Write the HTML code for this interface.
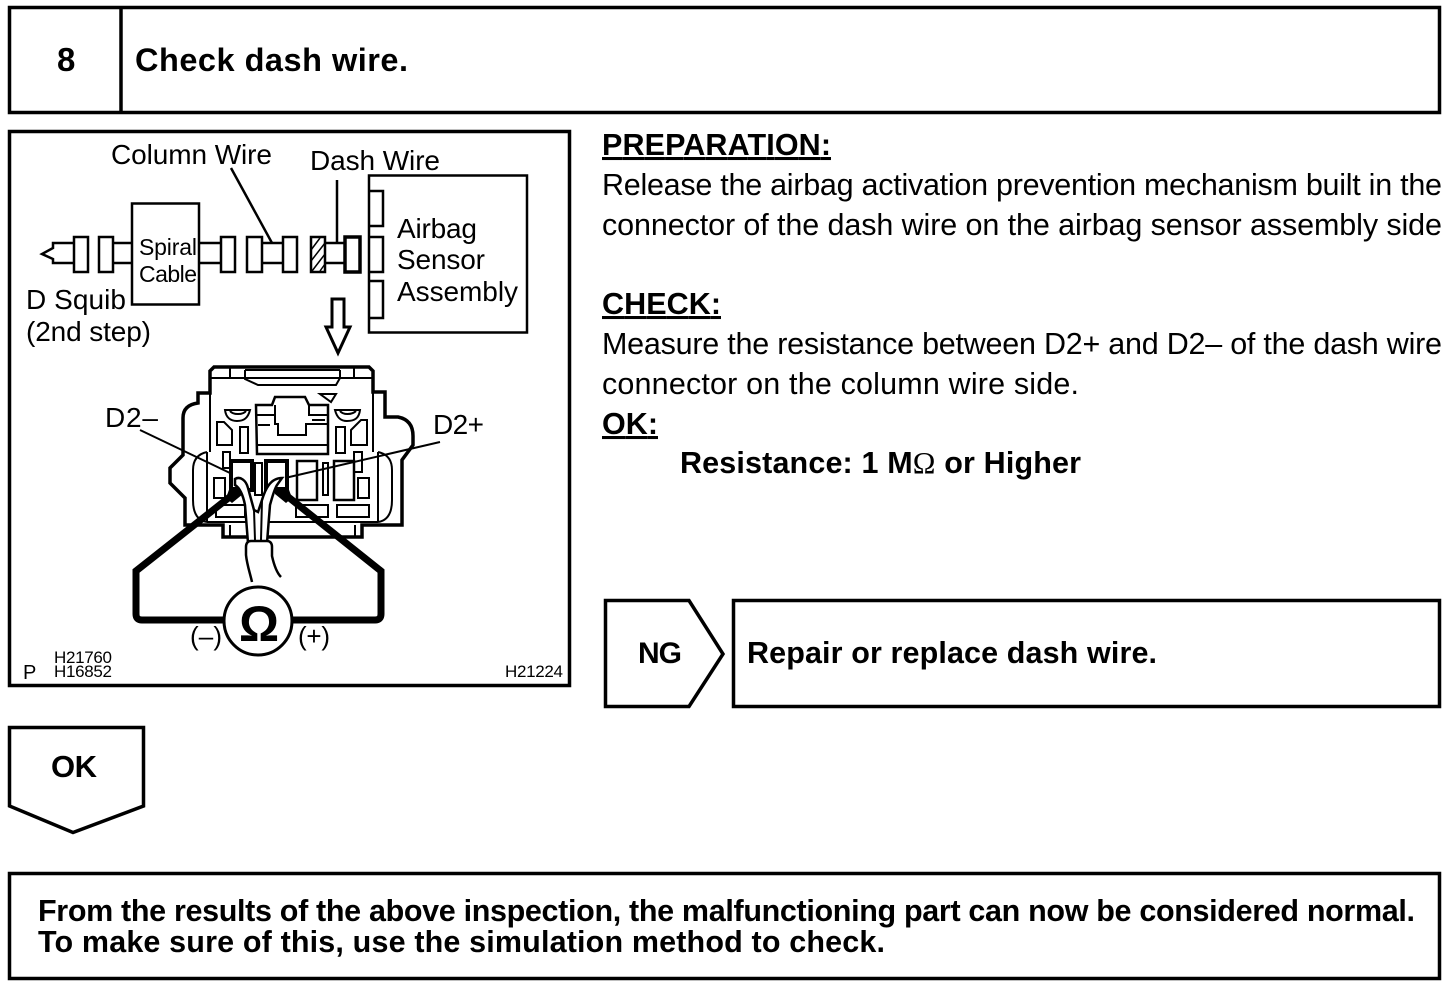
<!DOCTYPE html>
<html><head><meta charset="utf-8"><style>
html,body{margin:0;padding:0;background:#fff}
svg{display:block}
text{font-family:"Liberation Sans",sans-serif;fill:#000}
.b{font-weight:bold}
.l{fill:none;stroke:#000;stroke-width:3.5}
.m{fill:none;stroke:#000;stroke-width:2.5}
.t{fill:none;stroke:#000;stroke-width:2}
</style></head><body>
<svg width="1456" height="994" viewBox="0 0 1456 994" xmlns="http://www.w3.org/2000/svg">
<rect width="1456" height="994" fill="#fff"/>
<!-- header -->
<rect x="9.500" y="7.500" width="1430" height="105" class="l"/>
<line x1="121" y1="7" x2="121" y2="113" class="l"/>
<text x="57" y="71" font-size="33" class="b">8</text>
<text x="135" y="71" font-size="32.500" class="b" textLength="273">Check dash wire.</text>
<!-- diagram frame -->
<rect x="9.500" y="131.500" width="560" height="554" class="l"/>
<text x="111" y="164" font-size="28" textLength="161">Column Wire</text>
<text x="310" y="170" font-size="28" textLength="130">Dash Wire</text>
<line x1="231" y1="168" x2="272" y2="243" class="m"/>
<line x1="337" y1="180" x2="337" y2="243" class="m"/>
<!-- squib -->
<path d="M74 243H53V248L42 254L53 259V263H74" class="m"/>
<rect x="74" y="237" width="14" height="35" class="m"/>
<rect x="99" y="237" width="14" height="35" class="m"/>
<path d="M113 243H132M113 263H132" class="m"/>
<rect x="132" y="203.500" width="67" height="101" class="m"/>
<text x="139" y="255" font-size="23" textLength="58">Spiral</text>
<text x="139" y="282" font-size="23" textLength="58">Cable</text>
<path d="M199 243H221M199 263H221" class="m"/>
<rect x="221" y="237" width="14" height="35" class="m"/>
<rect x="247" y="237" width="15" height="35" class="m"/>
<path d="M262 243H283M262 263H283" class="m"/>
<rect x="283" y="237" width="14" height="35" class="m"/>
<rect x="311" y="237" width="14" height="35" class="m"/>
<path d="M311 250L320 238M311 261L325 243M312 271L325 254M320 271L325 264" stroke="#000" stroke-width="1.500" fill="none"/>
<path d="M325 243H345M325 263H345" class="m"/>
<rect x="345" y="237" width="15" height="35" class="l"/>
<rect x="369" y="175.500" width="158" height="157" class="m"/>
<path d="M369 191H383V226H369M369 237H383V272H369M369 281H383V318H369" class="m"/>
<text x="397" y="238" font-size="28" textLength="80">Airbag</text>
<text x="397" y="269" font-size="28" textLength="88">Sensor</text>
<text x="397" y="301" font-size="28" textLength="121">Assembly</text>
<text x="26" y="309" font-size="28" textLength="100">D Squib</text>
<text x="26" y="341" font-size="28" textLength="125">(2nd step)</text>
<path d="M332 299H344V327H350L338 353L326 327H332Z" fill="#fff" stroke="#000" stroke-width="3"/>
<!-- connector body -->
<path d="M214 367H369L373 371V392H385V417H398Q413 420 413 436V445L402 460V525H362V537H223V525H185V498L170 483V468L183 455V418Q183 405 198 403V393H210V371Z" fill="#fff" stroke="#000" stroke-width="3.500"/>
<g fill="none" stroke="#000" stroke-width="2">
<path d="M210 378H373"/>
<path d="M230 367V378M245 370H340M245 370V379L258 385H336L340 378V370M245 378H258M325 378H340M354 367V378"/>
<path d="M256 405H272L275 397H305L309 405H328V454H257Z" stroke-width="2.500"/>
<path d="M256 415H275V424H278V435H306V424H328M275 405V415M309 405V415H328M258 425H270M312 420H325M257 445H328"/>
<path d="M320 394L336 394L331 402Z"/>
<path d="M225 410H250C248 418 244 421 237 421C231 421 226 418 225 410ZM230 411C233 415 243 415 246 411"/>
<path d="M335 410H360C359 418 355 421 347 421C341 421 337 418 335 410ZM340 411C343 415 352 415 356 411"/>
<path d="M217 422H224L232 430V445H217Z"/>
<path d="M240 427H248V453H240Z"/>
<path d="M336 427H345V453H336Z"/>
<path d="M351 430L361 420H367V445H351Z"/>
<path d="M193 500V470Q193 455 207 452M207 522Q193 520 193 500M392 500V470Q392 455 378 452M378 522Q392 520 392 500M207 522H378M210 393V452M373 392V452M207 452V522M378 452V522"/>
<path d="M223 452H230V468H223ZM354 452H362V472H354Z"/>
<path d="M214 478H225V498H214ZM358 478H369V498H358Z"/>
<path d="M255 463H262V495H255ZM323 463H328V495H323Z"/>
<path d="M297 461H317V500H297ZM334 461H354V500H334Z" stroke-width="2.500"/>
<path d="M216 505H245V517H216ZM296 505H328V517H296ZM337 505H369V517H337Z"/>
<path d="M230 525V537M355 525V537"/>
</g>
<path d="M231 461H252V490H231ZM266 461H287V490H266Z" fill="#fff" stroke="#000" stroke-width="4"/>
<!-- leads -->
<path d="M236 492L136 571V614Q136 620 142 620H225M282 492L381 571V614Q381 620 375 620H291" fill="none" stroke="#000" stroke-width="7"/>
<path d="M230 487H243V494L232 503L226 498Z M288 487H275V494L286 503L292 498Z" fill="#000"/>
<!-- harness -->
<path d="M235 479C240 476 246 480 248 488L254 510L258 512L262 500C265 490 270 478 282 478L277 485C274 490 272 498 270 505L267 543H248L245 505C243 495 240 488 235 485Z" fill="#fff" stroke="#000" stroke-width="2.500"/>
<path d="M254 510L255 540M262 500L261 540" fill="none" stroke="#000" stroke-width="2"/>
<path d="M246 555C247 565 250 573 252 582L280 577C277 573 274 565 272 556L272 547C272 543 270 541 267 541H251C248 541 246 543 246 547Z" fill="#fff" stroke="none"/>
<path d="M252 582C250 573 247 565 246 555V547C246 543 248 541 251 541H267C270 541 272 543 272 547V556C274 565 277 573 281 577" fill="none" stroke="#000" stroke-width="2.500"/>
<line x1="140" y1="430" x2="230" y2="473" stroke="#000" stroke-width="2"/>
<line x1="440" y1="442" x2="285" y2="478" stroke="#000" stroke-width="2"/>
<text x="105" y="427" font-size="28" textLength="53">D2–</text>
<text x="433" y="434" font-size="28" textLength="51">D2+</text>
<!-- meter -->
<circle cx="258" cy="621" r="34" fill="#fff" stroke="#000" stroke-width="3"/>
<text x="239" y="641" font-size="50" class="b">Ω</text>
<text x="190" y="645" font-size="26" textLength="32">(–)</text>
<text x="298" y="645" font-size="26" textLength="32">(+)</text>
<text x="23" y="679" font-size="20">P</text>
<text x="54" y="663" font-size="17" textLength="58">H21760</text>
<text x="54" y="677" font-size="17" textLength="58">H16852</text>
<text x="505" y="677" font-size="17" textLength="58">H21224</text>
<!-- right text -->
<text x="602" y="155" font-size="30.500" class="b" text-decoration="underline" textLength="229">PREPARATION:</text>
<text x="602" y="195" font-size="30.500" textLength="840">Release the airbag activation prevention mechanism built in the</text>
<text x="602" y="235" font-size="30.500" textLength="840">connector of the dash wire on the airbag sensor assembly side</text>
<text x="602" y="314" font-size="30.500" class="b" text-decoration="underline" textLength="119">CHECK:</text>
<text x="602" y="354" font-size="30.500" textLength="840">Measure the resistance between D2+ and D2– of the dash wire</text>
<text x="602" y="394" font-size="30.500" textLength="477">connector on the column wire side.</text>
<text x="602" y="434" font-size="30.500" class="b" text-decoration="underline" textLength="56">OK:</text>
<text x="680" y="473" font-size="30.500" class="b" textLength="401">Resistance: 1 M<tspan font-weight="normal" font-family="Liberation Serif">Ω</tspan> or Higher</text>
<!-- NG -->
<path d="M605.500 600.500H689L723 654L689 706.500H605.500Z" class="l"/>
<text x="638" y="663" font-size="30" class="b" textLength="44">NG</text>
<rect x="733.500" y="600.500" width="706" height="106" class="l"/>
<text x="747" y="663" font-size="30.500" class="b" textLength="410">Repair or replace dash wire.</text>
<!-- OK -->
<path d="M9.500 727.500H143.500V806L73 832.500L9.500 806Z" class="l"/>
<text x="51" y="777" font-size="31" class="b" textLength="46">OK</text>
<!-- bottom -->
<rect x="9.500" y="873.500" width="1430" height="105" class="l"/>
<text x="38" y="921" font-size="30.500" class="b" textLength="1377">From the results of the above inspection, the malfunctioning part can now be considered normal.</text>
<text x="38" y="952" font-size="30.500" class="b" textLength="847">To make sure of this, use the simulation method to check.</text>
</svg>
</body></html>
